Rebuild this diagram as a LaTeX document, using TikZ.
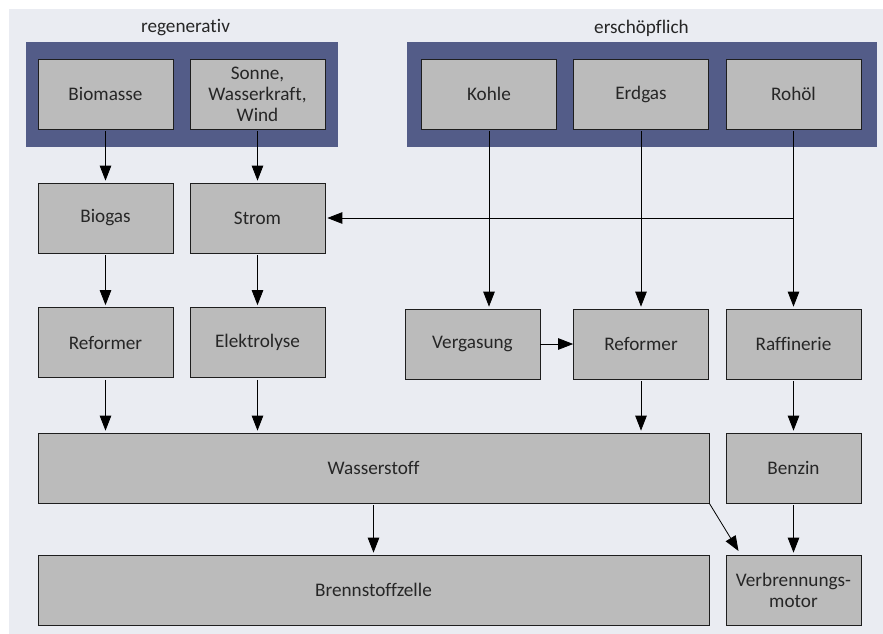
\documentclass[tikz,border=0pt]{standalone}
\usepackage{fontspec}
\setmainfont[Ligatures=NoCommon]{Carlito}
\usetikzlibrary{arrows.meta}
\definecolor{bgc}{RGB}{234,236,242}
\definecolor{bluec}{RGB}{83,92,136}
\definecolor{boxc}{RGB}{187,187,187}
\definecolor{linec}{RGB}{30,30,30}
\tikzset{
  stoff/.style={draw=linec,fill=boxc,line width=0.7pt,minimum height=70pt,minimum width=135pt,inner sep=0pt,align=center,font=\fontsize{19.2}{21}\selectfont,text=black!85},
  wide/.style={stoff,minimum width=671pt},
  band/.style={fill=bluec,draw=none,inner sep=0pt},
  heading/.style={font=\fontsize{19.2}{21}\selectfont,text=black!85,inner sep=0pt},
  conn/.style={draw=black,line width=0.8pt,-{Triangle[length=15pt,width=11.5pt]},shorten >=2pt,shorten <=2pt}
}
\begin{document}
\begin{tikzpicture}[x=1pt,y=-1pt]
\useasboundingbox (0,0) rectangle (883,634);
\fill[bgc] (9,9) rectangle (883,634);
\node[band,minimum width=312pt,minimum height=105pt] (blaua) at (182,94.5) {};
\node[band,minimum width=470pt,minimum height=105pt] (blaub) at (642,94.5) {};
\node[heading] (hreg) at (185.5,28) {regenerativ};
\node[heading] (herz) at (641.5,28) {erschöpflich};
\node[stoff] (biomasse) at (105.5,94) {Biomasse};
\node[stoff] (sonne) at (257.5,94) {Sonne,\\Wasserkraft,\\Wind};
\node[stoff] (kohle) at (489,94) {Kohle};
\node[stoff] (erdgas) at (641,94) {Erdgas};
\node[stoff] (rohoel) at (793.5,94) {Rohöl};
\node[stoff] (biogas) at (105.5,218) {Biogas};
\node[stoff] (strom) at (257.5,218) {Strom};
\node[stoff] (reformera) at (105.5,342.5) {Reformer};
\node[stoff] (elektro) at (257.5,342.5) {Elektrolyse};
\node[stoff] (vergasung) at (472.5,344) {Vergasung};
\node[stoff] (reformerb) at (641,344) {Reformer};
\node[stoff] (raffinerie) at (793.5,344) {Raffinerie};
\node[wide] (wasserstoff) at (373.5,468) {Wasserstoff};
\node[stoff] (benzin) at (793.5,468) {Benzin};
\node[wide] (zelle) at (373.5,590) {Brennstoffzelle};
\node[stoff] (motor) at (793.5,590) {Verbrennungs-\\motor};
\coordinate (abzweig) at (rohoel.south |- strom.east);
\coordinate (schraeg) at (738.5,551);
\draw[conn] (biomasse) -- (biogas);
\draw[conn] (sonne) -- (strom);
\draw[conn] (biogas) -- (reformera);
\draw[conn] (strom) -- (elektro);
\draw[conn] (reformera.south) -- (reformera.south |- wasserstoff.north);
\draw[conn] (elektro.south) -- (elektro.south |- wasserstoff.north);
\draw[conn] (kohle.south) -- (kohle.south |- vergasung.north);
\draw[conn] (erdgas) -- (reformerb);
\draw[conn] (rohoel) -- (raffinerie);
\draw[conn,shorten <=0pt] (abzweig) -- (strom.east);
\draw[conn,shorten <=0pt,shorten >=0pt] (vergasung.east) -- (reformerb.west);
\draw[conn] (reformerb.south) -- (reformerb.south |- wasserstoff.north);
\draw[conn] (raffinerie) -- (benzin);
\draw[conn] (benzin) -- (motor);
\draw[conn] (wasserstoff.south) -- (zelle.north);
\draw[conn,shorten <=0pt,shorten >=0pt] (wasserstoff.south east) -- (schraeg);
\end{tikzpicture}
\end{document}
